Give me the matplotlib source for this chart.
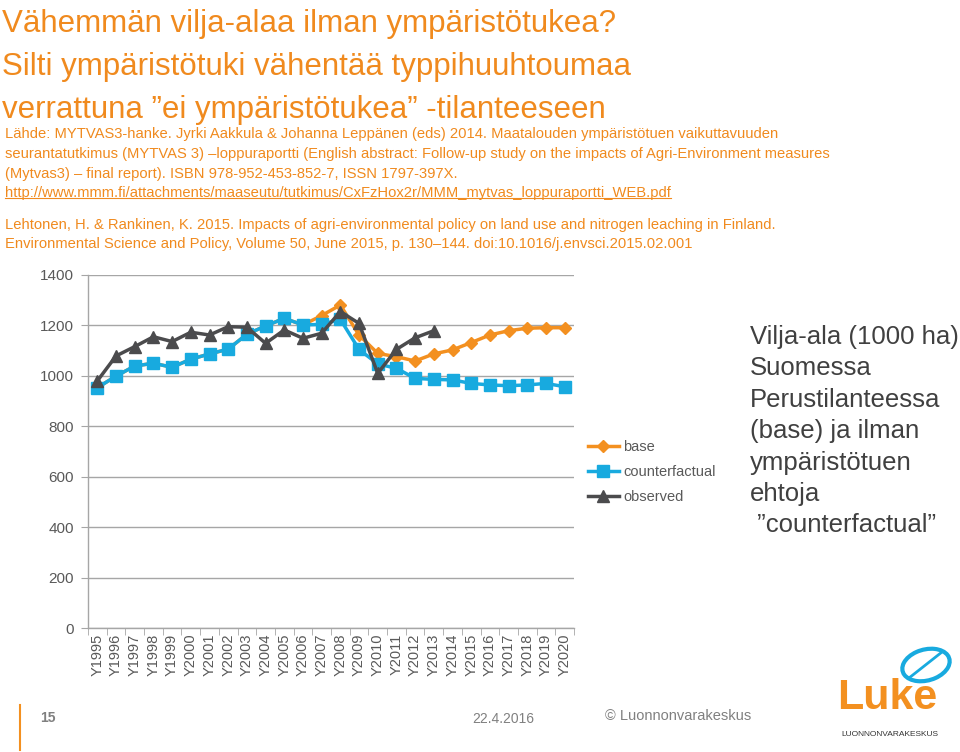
import matplotlib
matplotlib.use("Agg")
import matplotlib.pyplot as plt
from matplotlib.lines import Line2D
from matplotlib.patches import Ellipse

# Vilja-ala (1000 ha)
years = ["Y%d" % y for y in range(1995, 2021)]
base = [953, 999, 1039, 1050, 1034, 1066, 1087, 1106, 1165, 1198, 1228, 1202,
        1239, 1281, 1162, 1089, 1076, 1059, 1087, 1103, 1132, 1162, 1179, 1189, 1191, 1191]
counterfactual = [953, 999, 1039, 1050, 1034, 1066, 1087, 1106, 1165, 1198, 1228, 1202,
                  1204, 1224, 1105, 1047, 1030, 990, 986, 984, 970, 964, 961, 964, 970, 957]
observed = [980, 1079, 1116, 1155, 1136, 1173, 1162, 1195, 1193, 1129, 1182, 1149,
            1169, 1255, 1208, 1010, 1105, 1151, 1179]
yticks = [0, 200, 400, 600, 800, 1000, 1200, 1400]

title_lines = ["Vähemmän vilja-alaa ilman ympäristötukea?",
               "Silti ympäristötuki vähentää typpihuuhtoumaa",
               "verrattuna ”ei ympäristötukea” -tilanteeseen"]
source_lines = [
    "Lähde: MYTVAS3-hanke. Jyrki Aakkula & Johanna Leppänen (eds) 2014. Maatalouden ympäristötuen vaikuttavuuden",
    "seurantatutkimus (MYTVAS 3) –loppuraportti (English abstract: Follow-up study on the impacts of Agri-Environment measures",
    "(Mytvas3) – final report). ISBN 978-952-453-852-7, ISSN 1797-397X.",
    "http://www.mmm.fi/attachments/maaseutu/tutkimus/CxFzHox2r/MMM_mytvas_loppuraportti_WEB.pdf",
    "Lehtonen, H. & Rankinen, K. 2015. Impacts of agri-environmental policy on land use and nitrogen leaching in Finland.",
    "Environmental Science and Policy, Volume 50, June 2015, p. 130–144. doi:10.1016/j.envsci.2015.02.001",
]
side_text = "Vilja-ala (1000 ha)\nSuomessa\nPerustilanteessa\n(base) ja ilman\nympäristötuen\nehtoja\n ”counterfactual”"

ORANGE = "#F39020"
TITLE = "#F08A1E"
CYAN = "#18AADF"
DARK = "#4B4B4D"
GRAY = "#A6A6A6"
TXT = "#595959"

plt.rcParams["font.family"] = ["Liberation Sans Narrow", "Liberation Sans", "DejaVu Sans"]

W, H = 960, 752
fig = plt.figure(figsize=(W / 100, H / 100), dpi=100)


def fx(px):
    return px / W


def fy(py):
    return 1 - py / H


# title and source (source box is white and hides the title's descenders)
for i, line in enumerate(title_lines):
    fig.text(fx(2), fy(32 + 43 * i), line, fontsize=22.5, color=TITLE, va="baseline", ha="left",
             zorder=1)

src_y = [134, 154, 174, 193, 225, 244]
src_texts = []
for i, (line, yy) in enumerate(zip(source_lines, src_y)):
    t = fig.text(fx(5), fy(yy), line, fontsize=10.6, color=TITLE, va="center", ha="left", zorder=3,
                 bbox=dict(fc="white", ec="none", pad=1) if i == 0 else None)
    src_texts.append(t)

# chart
ax = fig.add_axes([fx(88), fy(628), fx(574) - fx(88), fy(275) - fy(628)])
x = list(range(len(years)))
ax.plot(x, base, color=ORANGE, lw=2.5, marker="D", ms=6, label="base", zorder=3)
ax.plot(x, counterfactual, color=CYAN, lw=2.5, marker="s", ms=8, label="counterfactual", zorder=4)
ax.plot(x[:len(observed)], observed, color=DARK, lw=2.5, marker="^", ms=9, label="observed", zorder=5)

ax.set_xlim(-0.5, len(years) - 0.5)
ax.set_ylim(0, 1400)
ax.set_yticks(yticks)
ax.set_yticklabels([str(v) for v in yticks])
ax.set_xticks(x)
ax.set_xticklabels(years, rotation=90)
ax.set_xticks([i - 0.5 for i in range(len(years) + 1)], minor=True)
ax.tick_params(axis="x", which="major", length=0, pad=4, labelsize=10.5, labelcolor=TXT)
ax.tick_params(axis="x", which="minor", length=5, color=GRAY, direction="out")
ax.tick_params(axis="y", length=5, color=GRAY, pad=5, labelsize=11, labelcolor=TXT)
for s in ["top", "right"]:
    ax.spines[s].set_visible(False)
for s in ["left", "bottom"]:
    ax.spines[s].set_color(GRAY)
    ax.spines[s].set_linewidth(1)
ax.grid(axis="y", color=GRAY, lw=1)
ax.set_axisbelow(True)

fig.legend(handles=ax.get_legend_handles_labels()[0], labels=["base", "counterfactual", "observed"],
           loc="center left", bbox_to_anchor=(fx(588), fy(472)), frameon=False,
           fontsize=10.5, handlelength=2.1, handletextpad=0.3, labelspacing=0.75,
           borderpad=0, borderaxespad=0, labelcolor=TXT)

fig.text(fx(750), fy(325), side_text, fontsize=18.5, color="#404040", va="top", ha="left",
         linespacing=1.39)

# underline for the url
fig.canvas.draw()
r = fig.canvas.get_renderer()
bb = src_texts[3].get_window_extent(r)
fig.add_artist(Line2D([bb.x0 / W, bb.x1 / W], [bb.y0 / H + 0.002, bb.y0 / H + 0.002],
                      transform=fig.transFigure, color=TITLE, lw=0.8))

# footer
fig.add_artist(Line2D([fx(20), fx(20)], [fy(705), fy(750)], transform=fig.transFigure,
                      color=ORANGE, lw=1.5))
fig.text(fx(40), fy(718), "15", fontsize=10, color="#808080", fontweight="bold", va="center")
fig.text(fx(472), fy(719), "22.4.2016", fontsize=10, color="#808080", va="center")
fig.text(fx(605), fy(716), "© Luonnonvarakeskus", fontsize=10.5, color="#808080", va="center")

# logo
fig.text(fx(887), fy(698), "Luke", fontsize=31, color=ORANGE, fontweight="bold",
         ha="center", va="center", family=["Liberation Sans", "DejaVu Sans"])
fig.text(fx(890), fy(734), "LUONNONVARAKESKUS", fontsize=6, color="#333333",
         ha="center", va="center")
leaf = Ellipse((fx(926), fy(665)), fx(50), fy(0) - fy(30), angle=30, transform=fig.transFigure,
               fill=False, ec=CYAN, lw=3)
fig.add_artist(leaf)
fig.add_artist(Line2D([fx(909), fx(942)], [fy(678), fy(652)], transform=fig.transFigure,
                      color=CYAN, lw=2))

fig.savefig("out.png", dpi=100)
